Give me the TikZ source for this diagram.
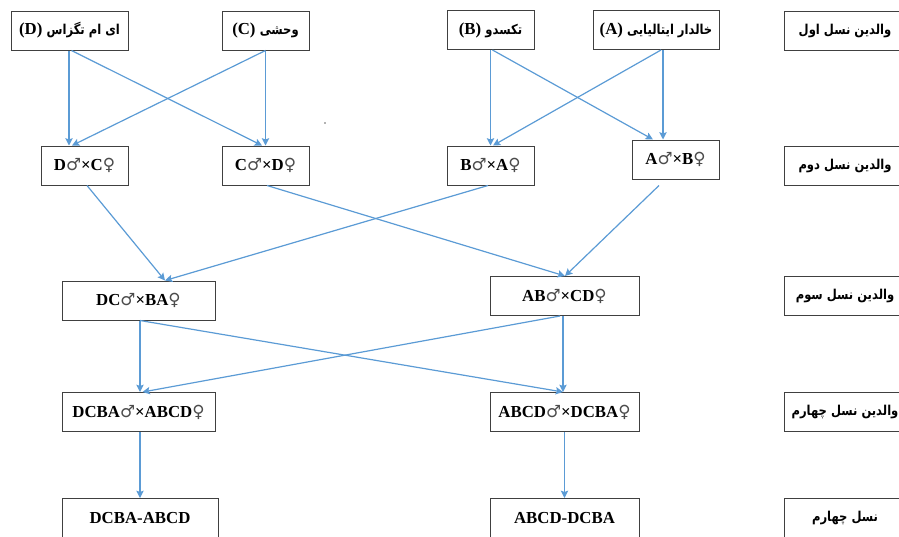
\documentclass[tikz,border=0pt]{standalone}
\usepackage{fontspec}
\setmainfont{Liberation Serif}
\newfontfamily\fafont[Script=Arabic,FakeStretch=0.85]{DejaVu Sans}
\newfontfamily\symfont{DejaVu Sans}
\TeXXeTstate=1
\usetikzlibrary{arrows.meta,calc}
\definecolor{arrowblue}{HTML}{5B9BD5}
\newcommand{\mal}{{\symfont\mdseries\color{black!70}♂}}
\newcommand{\fem}{{\symfont\mdseries\color{black!70}♀}}
\newcommand{\fa}[1]{{\fafont\bfseries\fontsize{10.2}{12}\selectfont\beginR #1\endR}}

\begin{document}
\begin{tikzpicture}[x=0.75pt,y=-0.75pt,
	box/.style={draw=black!75, line width=0.75pt, inner sep=0pt,
		minimum height=29.25pt, font=\bfseries\fontsize{12.6}{15}\selectfont},
	boxw/.style={minimum width=#1*0.75pt},
	arr/.style={draw=arrowblue, line width=0.9pt,
		-{Stealth[length=5.5pt,width=5.5pt,inset=1pt]}}]
	\clip (0,0) rectangle (899,536);
	% first parents
	\node[box,boxw=117] (D) at (69.5,30.5) {(D) \fa{ای ام تگزاس}};
	\node[box,boxw=87] (C) at (265.5,30.5) {(C) \fa{وحشی}};
	\node[box,boxw=87] (B) at (490.5,30) {(B) \fa{تکسدو}};
	\node[box,boxw=126] (A) at (656,30) {(A) \fa{خالدار ایتالیایی}};
	% second parents
	\node[box,boxw=87] (DxC) at (84.5,165.5) {D\mal×C\fem};
	\node[box,boxw=87] (CxD) at (265.5,165.5) {C\mal×D\fem};
	\node[box,boxw=87] (BxA) at (490.5,165.5) {B\mal×A\fem};
	\node[box,boxw=87] (AxB) at (675.5,159.5) {A\mal×B\fem};
	% third parents
	\node[box,boxw=153] (DCxBA) at (138.5,300.5) {DC\mal×BA\fem};
	\node[box,boxw=149] (ABxCD) at (564.5,296) {AB\mal×CD\fem};
	% fourth parents
	\node[box,boxw=153] (DCBAx) at (138.5,412) {DCBA\mal×ABCD\fem};
	\node[box,boxw=149] (ABCDx) at (564.5,412) {ABCD\mal×DCBA\fem};
	% fourth generation
	\node[box,boxw=156] (DCBA) at (140,518) {DCBA-ABCD};
	\node[box,boxw=149] (ABCD) at (564.5,518) {ABCD-DCBA};
	% row labels
	\node[box,boxw=122] (L1) at (845,30.5) {\fa{والدین نسل اول}};
	\node[box,boxw=122] (L2) at (845,165.5) {\fa{والدین نسل دوم}};
	\node[box,boxw=122] (L3) at (845,296) {\fa{والدین نسل سوم}};
	\node[box,boxw=122] (L4) at (845,412) {\fa{والدین نسل چهارم}};
	\node[box,boxw=122] (L5) at (845,518) {\fa{نسل چهارم}};

	\draw[arr] ($(D.south)+(-0.5,0)$) -- ($(DxC.north)+(-15.5,0)$);
	\draw[arr] ($(D.south)+(2,0)$) -- ($(CxD.north)+(-3.5,0)$);
	\draw[arr] (C.south) -- (CxD.north);
	\draw[arr] (C.south) -- ($(DxC.north)+(-12.5,0)$);
	\draw[arr] (B.south) -- (BxA.north);
	\draw[arr] ($(B.south)+(2,0)$) -- ($(AxB.north)+(-22.5,0)$);
	\draw[arr] ($(A.south)+(7,0)$) -- ($(AxB.north)+(-12.5,0)$);
	\draw[arr] ($(A.south)+(5,0)$) -- ($(BxA.north)+(2.5,0)$);

	\draw[arr] ($(DxC.south)+(2.5,0)$) -- ($(DCxBA.north)+(26.5,0)$);
	\draw[arr] ($(BxA.south)+(-2.5,0)$) -- ($(DCxBA.north)+(26.5,0)$);
	\draw[arr] ($(CxD.south)+(1.5,0)$) -- ($(ABxCD.north)+(0.5,0)$);
	\draw[arr] ($(AxB.south)+(-16.5,6)$) -- ($(ABxCD.north)+(0.5,0)$);

	\draw[arr] ($(DCxBA.south)+(1.5,0)$) -- ($(DCBAx.north)+(1.5,0)$);
	\draw[arr] ($(DCxBA.south)+(1.5,0)$) -- ($(ABCDx.north)+(-1.5,0)$);
	\draw[arr] ($(ABxCD.south)+(-1.5,0)$) -- ($(ABCDx.north)+(-1.5,0)$);
	\draw[arr] ($(ABxCD.south)+(-4.5,0)$) -- ($(DCBAx.north)+(4,0)$);

	\draw[arr] ($(DCBAx.south)+(1.5,0)$) -- (DCBA.north);
	\draw[arr] (ABCDx.south) -- (ABCD.north);

	\fill[black!60] (325,123) circle (0.8);
\end{tikzpicture}
\end{document}
